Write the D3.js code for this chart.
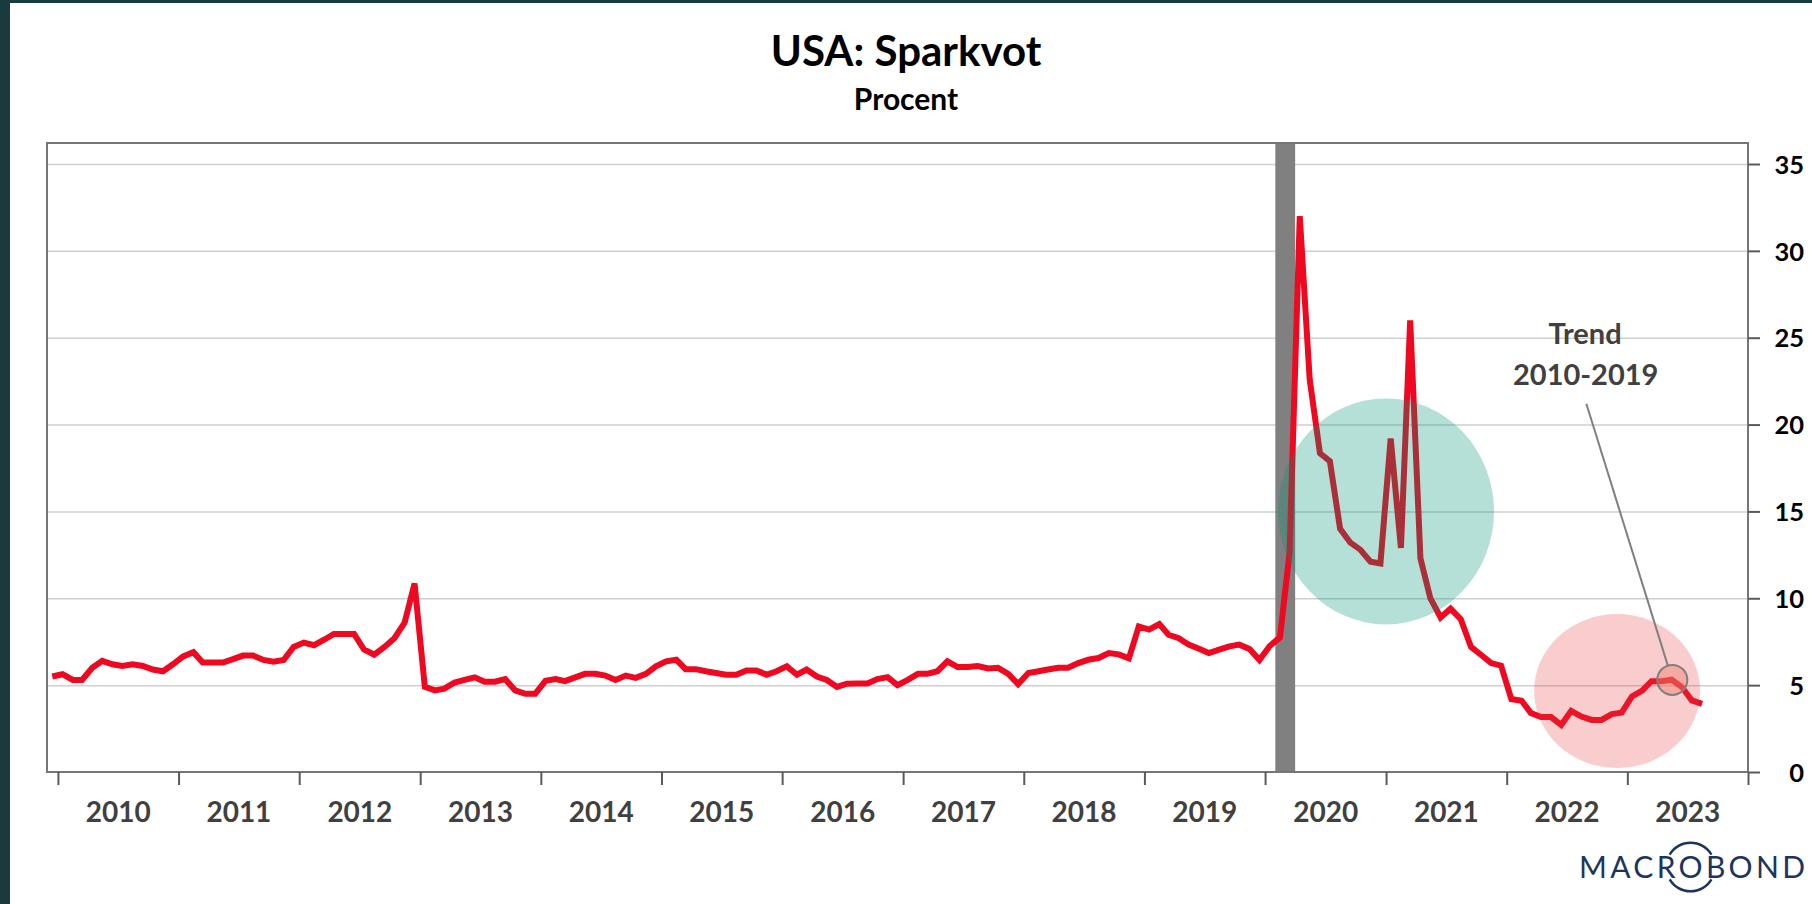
<!DOCTYPE html>
<html>
<head>
<meta charset="utf-8">
<script src="https://cdn.jsdelivr.net/npm/d3@7"></script>
<style>
  body { margin: 0; background: #fff; }
  text { font-family: Lato, "Open Sans", sans-serif; }
</style>
</head>
<body>
<div id="chart"></div>
<script>
// Personal saving rate, monthly, Dec 2009 - Aug 2023 (%)
var firstMonth = "2009-12";
var savingRate = [
  5.5,
  5.63, 5.3, 5.3, 6.0, 6.4, 6.2, 6.1, 6.2, 6.1, 5.9, 5.8, 6.2,
  6.65, 6.9, 6.3, 6.3, 6.3, 6.5, 6.7, 6.7, 6.45, 6.35, 6.45, 7.2,
  7.45, 7.3, 7.6, 7.95, 7.95, 7.95, 7.05, 6.75, 7.2, 7.7, 8.6, 10.85,
  4.9, 4.7, 4.8, 5.15, 5.3, 5.45, 5.2, 5.2, 5.35, 4.7, 4.5, 4.5,
  5.25, 5.35, 5.23, 5.45, 5.65, 5.65, 5.55, 5.3, 5.55, 5.42, 5.65, 6.08,
  6.37, 6.46, 5.92, 5.92, 5.8, 5.7, 5.6, 5.6, 5.85, 5.85, 5.6, 5.8,
  6.08, 5.6, 5.9, 5.5, 5.3, 4.9, 5.08, 5.1, 5.1, 5.35, 5.46, 5.0,
  5.3, 5.65, 5.65, 5.8, 6.37, 6.04, 6.04, 6.1, 5.96, 6.0, 5.65, 5.06,
  5.7, 5.8, 5.9, 6.0, 6.0, 6.27, 6.46, 6.56, 6.85, 6.77, 6.54, 8.38,
  8.2, 8.52, 7.9, 7.7, 7.33, 7.1, 6.85, 7.04, 7.23, 7.33, 7.08, 6.45,
  7.25, 7.75, 12.6, 32.0, 22.6, 18.35, 17.9, 14.0, 13.2, 12.8, 12.1, 12.0,
  19.2, 12.9, 26.0, 12.3, 10.0, 8.9, 9.4, 8.8, 7.2, 6.75, 6.27, 6.12,
  4.2, 4.1, 3.4, 3.16, 3.16, 2.71, 3.52, 3.19, 3.0, 3.0, 3.33, 3.42,
  4.35, 4.69, 5.23, 5.23, 5.31, 4.89, 4.12, 3.92
];

var years = d3.range(2010, 2024);
var yTicks = [0, 5, 10, 15, 20, 25, 30, 35];
var recession = ["2020-02-01", "2020-04-01"];

// highlight circles: [center date, center value]
var covidBubble = ["2021-01-01", 15];
var recentBubble = ["2022-12-01", 4.66];
var trendPoint = ["2023-05-17", 5.3];
var trendLabel = ["Trend", "2010-2019"];
var trendLabelPos = [["2022-08-26", 24.64], ["2022-08-28", 22.28]];
var trendLineStart = ["2022-08-30", 21.2];

var title = "USA: Sparkvot";
var subtitle = "Procent";

var svgWidth = 1812;
var svgHeight = 904;
var margin = { top: 143, right: 64, bottom: 132, left: 47 };
var plotRight = svgWidth - margin.right;
var plotBottom = svgHeight - margin.bottom;

var parseDay = d3.timeParse("%Y-%m-%d");
var parseMonth = d3.timeParse("%Y-%m");

var start = d3.timeDay.offset(parseMonth(firstMonth), 14);
var data = savingRate.map(function(v, i) {
  return { date: d3.timeMonth.offset(start, i), value: v };
});

var svg = d3.select("#chart")
  .append("svg")
  .attr("width", svgWidth)
  .attr("height", svgHeight);

// dark frame strips of the screenshot
svg.append("rect").attr("x", 0).attr("y", 0).attr("width", svgWidth).attr("height", 3).attr("fill", "#193b3f");
svg.append("rect").attr("x", 0).attr("y", 0).attr("width", 10).attr("height", svgHeight).attr("fill", "#193b3f");

var x = d3.scaleTime()
  .domain([new Date(2009, 10, 29), new Date(2024, 0, 1)])
  .range([margin.left, plotRight]);
var y = d3.scaleLinear()
  .domain([0, 35])
  .range([plotBottom, 164]);

// titles
svg.append("text")
  .attr("x", svgWidth / 2).attr("y", 66)
  .attr("text-anchor", "middle")
  .attr("font-size", "42px").attr("font-weight", "bold").attr("fill", "#000")
  .text(title);
svg.append("text")
  .attr("x", svgWidth / 2).attr("y", 110)
  .attr("text-anchor", "middle")
  .attr("font-size", "30px").attr("font-weight", "bold").attr("fill", "#000")
  .text(subtitle);

// gridlines
var grid = svg.append("g")
  .attr("transform", `translate(${margin.left},0)`)
  .call(d3.axisRight(y).tickValues(yTicks.slice(1)).tickSize(plotRight - margin.left).tickFormat(""));
grid.select(".domain").remove();
grid.selectAll("line").attr("stroke", "#cfcfcf").attr("stroke-width", 1.5);

// recession bar
svg.append("rect")
  .attr("x", x(parseDay(recession[0])))
  .attr("y", margin.top)
  .attr("width", x(parseDay(recession[1])) - x(parseDay(recession[0])))
  .attr("height", plotBottom - margin.top)
  .attr("fill", "#808080");

// line
var line = d3.line()
  .x(d => x(d.date))
  .y(d => y(d.value));
svg.append("path")
  .datum(data)
  .attr("d", line)
  .attr("fill", "none")
  .attr("stroke", "#ee0820")
  .attr("stroke-width", 6);

// highlight bubbles
svg.append("ellipse")
  .attr("cx", x(parseDay(covidBubble[0]))).attr("cy", y(covidBubble[1]))
  .attr("rx", 108).attr("ry", 113)
  .attr("fill", "#009479").attr("fill-opacity", 0.29);
svg.append("ellipse")
  .attr("cx", x(parseDay(recentBubble[0]))).attr("cy", y(recentBubble[1]))
  .attr("rx", 83).attr("ry", 77)
  .attr("fill", "#e83c3c").attr("fill-opacity", 0.26);

// trend marker + connector
var tpX = x(parseDay(trendPoint[0])), tpY = y(trendPoint[1]);
var lsX = x(parseDay(trendLineStart[0])), lsY = y(trendLineStart[1]);
var r = 15;
var len = Math.hypot(tpX - lsX, tpY - lsY);
svg.append("line")
  .attr("x1", lsX).attr("y1", lsY)
  .attr("x2", lsX + (tpX - lsX) * (len - r) / len)
  .attr("y2", lsY + (tpY - lsY) * (len - r) / len)
  .attr("stroke", "#808080").attr("stroke-width", 2);
svg.append("circle")
  .attr("cx", tpX).attr("cy", tpY).attr("r", r)
  .attr("fill", "#f0806c").attr("fill-opacity", 0.45)
  .attr("stroke", "#7f7f7f").attr("stroke-width", 2);

svg.selectAll(".trendLabel")
  .data(trendLabel)
  .enter()
  .append("text")
  .attr("class", "trendLabel")
  .attr("x", (d, i) => x(parseDay(trendLabelPos[i][0])))
  .attr("y", (d, i) => y(trendLabelPos[i][1]))
  .attr("text-anchor", "middle")
  .attr("font-size", "29px").attr("font-weight", "bold").attr("fill", "#404040")
  .text(d => d);

// frame
svg.append("rect")
  .attr("x", margin.left).attr("y", margin.top)
  .attr("width", plotRight - margin.left).attr("height", plotBottom - margin.top)
  .attr("fill", "none").attr("stroke", "#767676").attr("stroke-width", 2);

// x axis: year ticks and mid-year labels
var xTicks = svg.append("g")
  .attr("transform", `translate(0, ${plotBottom})`)
  .call(d3.axisBottom(x).tickValues(d3.range(2010, 2025).map(yr => new Date(yr, 0, 1))).tickSize(13).tickFormat(""));
xTicks.select(".domain").remove();
xTicks.selectAll("line").attr("stroke", "#5a5a5a").attr("stroke-width", 2);

var xLabels = svg.append("g")
  .attr("transform", `translate(0, ${plotBottom})`)
  .call(d3.axisBottom(x).tickValues(years.map(yr => new Date(yr, 6, 1))).tickSize(0).tickFormat(d3.timeFormat("%Y")));
xLabels.select(".domain").remove();
xLabels.selectAll("text")
  .attr("y", 50).attr("dy", null)
  .attr("font-family", "Lato, sans-serif")
  .attr("font-size", "28px").attr("font-weight", "bold").attr("fill", "#404040");

// right y axis
var yAxis = svg.append("g")
  .attr("transform", `translate(${plotRight}, 0)`)
  .call(d3.axisRight(y).tickValues(yTicks).tickSize(12));
yAxis.select(".domain").remove();
yAxis.selectAll("line").attr("stroke", "#5a5a5a").attr("stroke-width", 2);
yAxis.selectAll("text")
  .attr("x", 56).attr("dy", "0.36em")
  .attr("text-anchor", "end")
  .attr("font-family", "Lato, sans-serif")
  .attr("font-size", "25.5px").attr("font-weight", "bold").attr("fill", "#000");

// logo
var logo = svg.append("text")
  .attr("x", 1805).attr("y", 878)
  .attr("text-anchor", "end")
  .attr("font-family", "'Open Sans', sans-serif")
  .attr("font-size", "30px")
  .attr("fill", "#1d355e")
  .attr("textLength", 226)
  .attr("lengthAdjust", "spacing")
  .text("MACROBOND");
var oBox = logo.node().getExtentOfChar(4);
var ocx = oBox.x + oBox.width / 2, ocy = 867;
var arc = d3.arc().innerRadius(23).outerRadius(25.5);
svg.append("path")
  .attr("transform", `translate(${ocx},${ocy})`)
  .attr("d", arc({ startAngle: -Math.PI * 0.33, endAngle: Math.PI * 0.33 }))
  .attr("fill", "#1d355e");
svg.append("path")
  .attr("transform", `translate(${ocx},${ocy})`)
  .attr("d", arc({ startAngle: Math.PI * 0.67, endAngle: Math.PI * 1.33 }))
  .attr("fill", "#1d355e");
</script>
</body>
</html>
